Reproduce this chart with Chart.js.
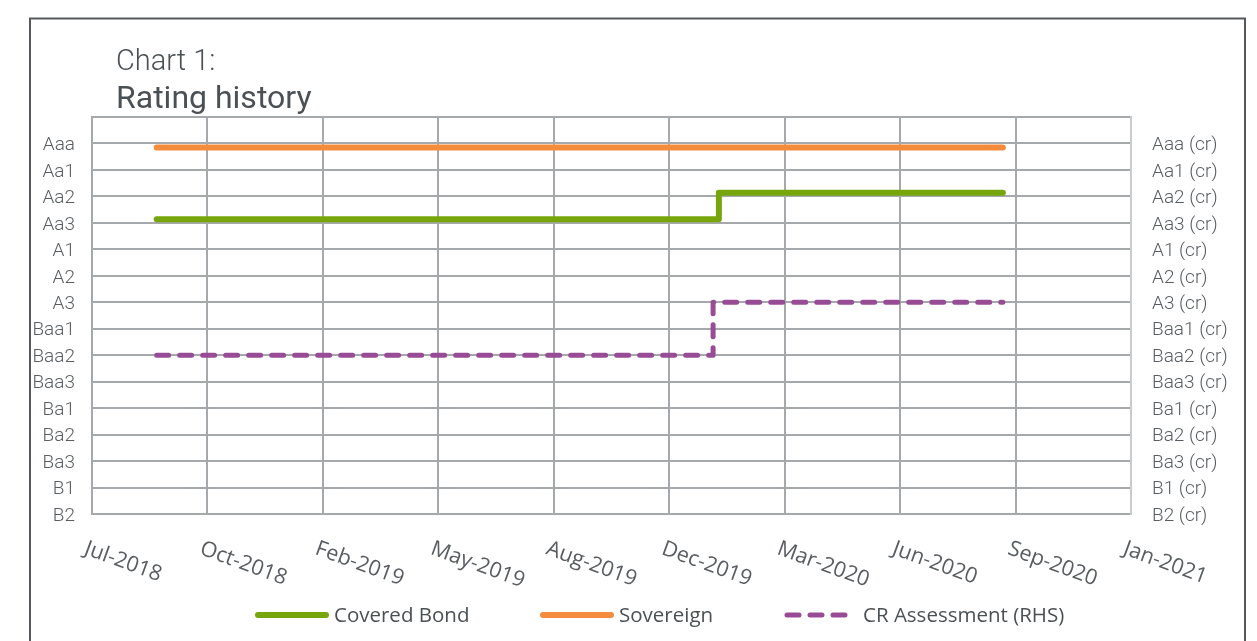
<!DOCTYPE html>
<html>
<head>
<meta charset="utf-8">
<title>Rating history</title>
<script src="https://cdn.jsdelivr.net/npm/chart.js@4.4.1/dist/chart.umd.min.js"></script>
<style>
    body { margin: 0; background: #fff; }
    canvas { display: block; }
</style>
</head>
<body>
<canvas id="rating-chart" width="1257" height="641"></canvas>
<script>
// Rating scale, bottom (0) to top (14)
const ratings = ['B2', 'B1', 'Ba3', 'Ba2', 'Ba1', 'Baa3', 'Baa2', 'Baa1', 'A3', 'A2', 'A1', 'Aa3', 'Aa2', 'Aa1', 'Aaa'];
const monthNames = ['Jan', 'Feb', 'Mar', 'Apr', 'May', 'Jun', 'Jul', 'Aug', 'Sep', 'Oct', 'Nov', 'Dec'];

// Series (dates + rating level, small offsets keep lines apart like the original)
const coveredBondDates = ['2018-09-13', '2020-01-13', '2020-09-15'];
const coveredBondValues = [11.14, 12.14, 12.14];
const sovereignDates = ['2018-09-13', '2020-09-15'];
const sovereignValues = [13.85, 13.85];
const crDates = ['2018-09-13', '2020-01-08', '2020-09-15'];
const crValues = [6, 8, 8];

// X axis: Excel style date serials, 100 day steps
const xMin = 43300;
const xMax = 44200;
const xStep = 100;

const EXCEL_EPOCH = Date.UTC(1899, 11, 30);
const DAY_MS = 86400000;

function toSerial(s) {
    const p = s.split('-').map(Number);
    return Math.round((Date.UTC(p[0], p[1] - 1, p[2]) - EXCEL_EPOCH) / DAY_MS);
}

function serialLabel(v) {
    const d = new Date(EXCEL_EPOCH + v * DAY_MS);
    return monthNames[d.getUTCMonth()] + '-' + d.getUTCFullYear();
}

function points(dates, values) {
    return dates.map((d, i) => ({ x: toSerial(d), y: values[i] }));
}

const gridColor = '#a6a9ac';
const textColor = '#595d61';

// Title, rotated x labels, legend and frame
const decorPlugin = {
    id: 'decor',
    afterDraw(chart) {
        const ctx = chart.ctx;

        // outer frame
        ctx.save();
        ctx.strokeStyle = '#55595c';
        ctx.lineWidth = 2;
        ctx.strokeRect(30, 18.5, 1215, 700);
        ctx.restore();

        // title
        ctx.save();
        ctx.fillStyle = '#4b5055';
        ctx.textAlign = 'left';
        ctx.textBaseline = 'alphabetic';
        ctx.font = '300 29px Roboto';
        ctx.fillText('Chart 1:', 116, 70);
        ctx.font = '400 32px Roboto';
        ctx.fillText('Rating history', 116, 108);
        ctx.restore();

        // x tick labels, rotated clockwise
        const xs = chart.scales.x;
        ctx.save();
        ctx.fillStyle = textColor;
        ctx.font = '400 21.5px "Open Sans"';
        ctx.textAlign = 'left';
        ctx.textBaseline = 'top';
        xs.ticks.forEach(t => {
            const x = xs.getPixelForValue(t.value);
            ctx.save();
            ctx.translate(x - 3, 538);
            ctx.rotate(20 * Math.PI / 180);
            ctx.fillText(serialLabel(t.value), 0, 0);
            ctx.restore();
        });
        ctx.restore();

        // legend
        const items = [
            { ds: 0, x0: 258, x1: 326, tx: 334 },
            { ds: 1, x0: 543, x1: 611, tx: 619 },
            { ds: 2, x0: 787, x1: 850, tx: 863 }
        ];
        const ly = 615;
        items.forEach(it => {
            const ds = chart.data.datasets[it.ds];
            ctx.save();
            ctx.strokeStyle = ds.borderColor;
            ctx.lineWidth = ds.borderWidth;
            ctx.lineCap = 'round';
            ctx.setLineDash(ds.borderDash || []);
            ctx.beginPath();
            ctx.moveTo(it.x0, ly);
            ctx.lineTo(it.x1, ly);
            ctx.stroke();
            ctx.restore();

            ctx.save();
            ctx.fillStyle = '#4b5055';
            ctx.font = '400 20.5px "Open Sans"';
            ctx.textAlign = 'left';
            ctx.textBaseline = 'middle';
            ctx.fillText(ds.label, it.tx, ly + 1);
            ctx.restore();
        });
    }
};

const ctx = document.getElementById('rating-chart').getContext('2d');
const ratingChart = new Chart(ctx, {
    type: 'line',
    data: {
        datasets: [{
            label: 'Covered Bond',
            data: points(coveredBondDates, coveredBondValues),
            borderColor: '#77a60c',
            borderWidth: 6,
            stepped: 'before',
            yAxisID: 'y'
        }, {
            label: 'Sovereign',
            data: points(sovereignDates, sovereignValues),
            borderColor: '#f58c3d',
            borderWidth: 6,
            yAxisID: 'y'
        }, {
            label: 'CR Assessment (RHS)',
            data: points(crDates, crValues),
            borderColor: '#984c95',
            borderWidth: 5,
            borderDash: [12, 11],
            stepped: 'before',
            yAxisID: 'y1'
        }]
    },
    options: {
        responsive: false,
        animation: false,
        devicePixelRatio: 1,
        layout: {
            padding: { top: 117, left: 0, right: 0, bottom: 0 }
        },
        elements: {
            point: { radius: 0 },
            line: { borderCapStyle: 'round', borderJoinStyle: 'round', tension: 0 }
        },
        plugins: {
            legend: { display: false },
            tooltip: { enabled: false }
        },
        scales: {
            x: {
                type: 'linear',
                min: xMin,
                max: xMax,
                ticks: { stepSize: xStep, display: false },
                grid: { color: gridColor, lineWidth: 2, drawTicks: false },
                border: { color: gridColor, width: 2 },
                afterFit(scale) { scale.height = 127; }
            },
            y: {
                position: 'left',
                min: 0,
                max: 15,
                ticks: {
                    stepSize: 1,
                    padding: 17,
                    labelOffset: 2,
                    color: textColor,
                    font: { family: 'Roboto', weight: '300', size: 19 },
                    callback: v => ratings[v] || ''
                },
                grid: { color: gridColor, lineWidth: 2, drawTicks: false },
                border: { color: gridColor, width: 2 },
                afterFit(scale) { scale.width = 92; }
            },
            y1: {
                position: 'right',
                min: 0,
                max: 15,
                ticks: {
                    stepSize: 1,
                    padding: 21,
                    labelOffset: 2,
                    color: textColor,
                    font: { family: 'Roboto', weight: '300', size: 19 },
                    callback: v => ratings[v] ? ratings[v] + ' (cr)' : ''
                },
                grid: { display: false, drawTicks: false },
                border: { color: '#c9cbcd', width: 2 },
                afterFit(scale) { scale.width = 126; }
            }
        }
    },
    plugins: [decorPlugin]
});
</script>
</body>
</html>
